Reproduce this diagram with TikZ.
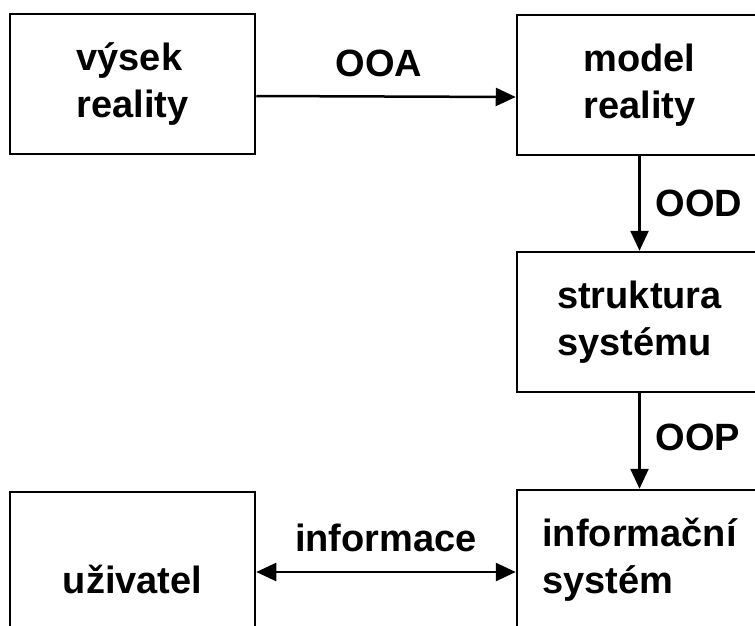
\documentclass[tikz,border=0pt]{standalone}
\usepackage{fontspec}
\setmainfont{Liberation Sans}
\usetikzlibrary{arrows.meta}

\begin{document}
\begin{tikzpicture}[x=1pt,y=-1pt,line width=2.5pt,
	box/.style={draw,rectangle,minimum width=245pt,minimum height=140pt,align=left,font=\fontsize{38}{47}\selectfont\bfseries},
	lbl/.style={font=\fontsize{38}{47}\selectfont\bfseries},
	arr/.style={-{Triangle[length=20pt,width=18pt]}},
	darr/.style={{Triangle[length=20pt,width=18pt]}-{Triangle[length=20pt,width=18pt]}}]
	\useasboundingbox (0,0) rectangle (755,625);
	\clip (0,0) rectangle (755,625);
	\node[box] (vysek) at (132.5,84) {výsek\\reality};
	\node[box] (model) at (639.5,85) {model\\reality};
	\node[box] (struktura) at (639.5,322) {struktura\\systému};
	\node[box] (infsys) at (639.5,560) {informační\\systém};
	\node[box,text height=62pt,text depth=0pt] (uzivatel) at (132.5,562) {uživatel};
	\draw[arr] ([yshift=-12pt]vysek.east) -- ([yshift=-12pt]model.west) node[lbl,midway,above,inner sep=18pt,xshift=-7pt] {OOA};
	\draw[arr] (model.south) -- (struktura.north) node[lbl,midway,right,inner sep=15pt] {OOD};
	\draw[arr] (struktura.south) -- (infsys.north) node[lbl,midway,right,inner sep=15pt,yshift=4pt] {OOP};
	\draw[darr] ([yshift=-10pt]uzivatel.east) -- ([yshift=-12pt]infsys.west) node[lbl,midway,above,inner sep=19pt] {informace};
\end{tikzpicture}
\end{document}
